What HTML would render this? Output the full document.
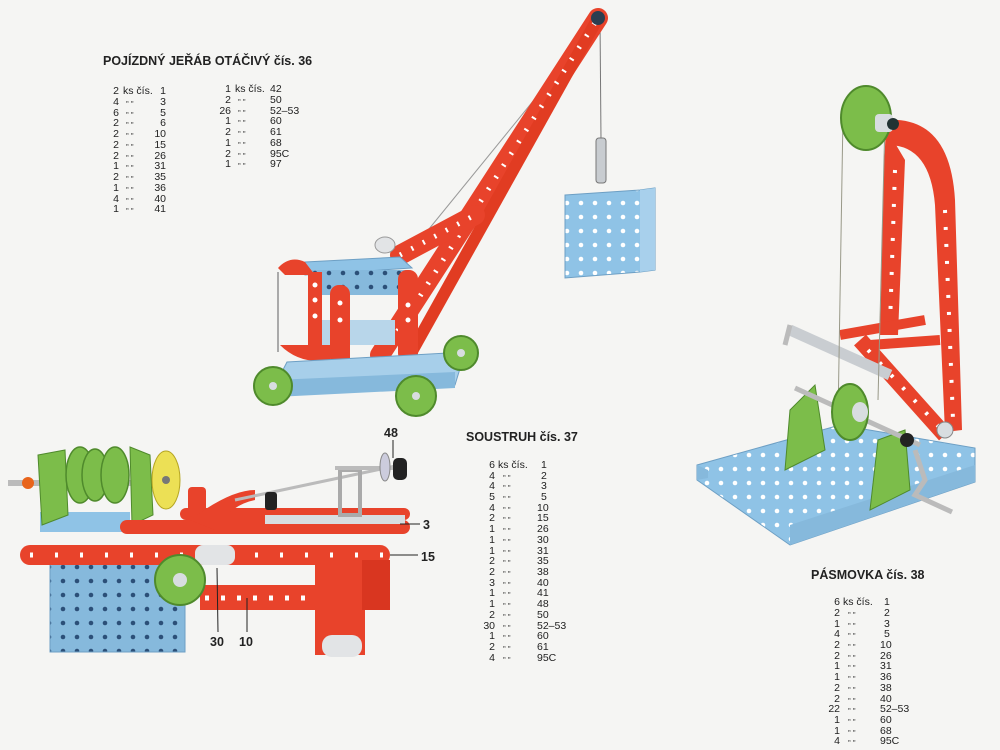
<!DOCTYPE html>
<html><head><meta charset="utf-8"><style>
html,body{margin:0;padding:0;background:#f5f5f3;}
svg{display:block}
text{font-family:"Liberation Sans",sans-serif;fill:#222}
.t{font-size:12.5px;font-weight:bold}
.l{font-size:10.5px}
.q{font-size:8px}
</style></head><body>
<svg width="1000" height="750" viewBox="0 0 1000 750" xmlns="http://www.w3.org/2000/svg">
<rect width="1000" height="750" fill="#f5f5f3"/>
<defs>
<pattern id="holesB" width="14" height="14" patternUnits="userSpaceOnUse"><rect width="14" height="14" fill="#8fc3e6"/><circle cx="7" cy="7" r="2.3" fill="#fff"/></pattern>
<pattern id="holesBd" width="14" height="14" patternUnits="userSpaceOnUse"><rect width="14" height="14" fill="#86b9dc"/><circle cx="7" cy="7" r="2.3" fill="#2c4f78"/></pattern>
</defs>

<!-- ===== CRANE ===== -->
<line x1="600" y1="20" x2="601" y2="140" stroke="#777" stroke-width="1"/>
<rect x="596" y="138" width="10" height="45" rx="3" fill="#c8ccd0" stroke="#777"/>
<line x1="420" y1="240" x2="595" y2="25" stroke="#999" stroke-width="1"/>
<polygon points="565,195 640,190 655,188 655,270 640,272 565,278" fill="url(#holesB)" stroke="#6d9fc4"/>
<polygon points="640,190 655,188 655,270 640,272" fill="#a8d0ec"/>
<line x1="380" y1="355" x2="598" y2="18" stroke="#e8432b" stroke-width="20" stroke-linecap="round"/>
<line x1="410" y1="355" x2="598" y2="18" stroke="#e13c22" stroke-width="12"/>
<line x1="390" y1="343" x2="598" y2="18" stroke-dasharray="2 12" stroke="#fff" stroke-width="5"/>
<line x1="400" y1="255" x2="475" y2="215" stroke="#e8432b" stroke-width="20" stroke-linecap="round"/>
<line x1="400" y1="255" x2="475" y2="215" stroke-dasharray="2 11" stroke="#fff" stroke-width="5"/>
<circle cx="598" cy="18" r="7" fill="#2c3e50"/>
<ellipse cx="385" cy="245" rx="10" ry="8" fill="#e2e4e6" stroke="#999"/>
<polygon points="305,262 400,257 412,268 305,275" fill="#8fc3e6" stroke="#6d9fc4"/>
<rect x="312" y="270" width="95" height="25" fill="url(#holesBd)"/>
<rect x="320" y="320" width="75" height="25" fill="#b8d6ea"/>
<path d="M278,268 Q290,255 305,262 L315,275 L285,275Z" fill="#e8432b"/>
<path d="M280,345 Q300,365 330,360 L330,345Z" fill="#e8432b"/>
<line x1="278" y1="272" x2="278" y2="352" stroke="#aaa" stroke-width="2"/>
<rect x="308" y="272" width="14" height="85" fill="#e8432b"/>
<rect x="330" y="285" width="20" height="82" rx="9" fill="#e8432b"/>
<rect x="398" y="270" width="20" height="92" rx="9" fill="#e8432b"/>
<g fill="#fff"><circle cx="315" cy="285" r="2.5"/><circle cx="315" cy="300" r="2.5"/><circle cx="315" cy="316" r="2.5"/><circle cx="340" cy="303" r="2.5"/><circle cx="340" cy="320" r="2.5"/><circle cx="408" cy="305" r="2.5"/><circle cx="408" cy="320" r="2.5"/></g>
<polygon points="287,362 465,352 455,385 270,395" fill="#a7cfea" stroke="#6d9fc4"/>
<polygon points="275,380 455,372 455,388 275,397" fill="#86b9dc"/>
<g fill="#7cbd4a" stroke="#4f8a2c" stroke-width="2">
<circle cx="273" cy="386" r="19"/><circle cx="416" cy="396" r="20"/><circle cx="461" cy="353" r="17"/></g>
<g fill="#d8dde0"><circle cx="273" cy="386" r="4"/><circle cx="416" cy="396" r="4"/><circle cx="461" cy="353" r="4"/></g>

<text class="t" x="103" y="65">POJÍZDNÝ JEŘÁB OTÁČIVÝ <tspan>čís. 36</tspan></text>
<g class="l">
<text x="119" y="94" text-anchor="end">2</text><text x="123" y="94">ks čís.</text><text x="166" y="94" text-anchor="end">1</text>
<text x="119" y="105" text-anchor="end">4</text><text x="166" y="105" text-anchor="end">3</text>
<text x="119" y="116" text-anchor="end">6</text><text x="166" y="116" text-anchor="end">5</text>
<text x="119" y="126" text-anchor="end">2</text><text x="166" y="126" text-anchor="end">6</text>
<text x="119" y="137" text-anchor="end">2</text><text x="166" y="137" text-anchor="end">10</text>
<text x="119" y="148" text-anchor="end">2</text><text x="166" y="148" text-anchor="end">15</text>
<text x="119" y="159" text-anchor="end">2</text><text x="166" y="159" text-anchor="end">26</text>
<text x="119" y="169" text-anchor="end">1</text><text x="166" y="169" text-anchor="end">31</text>
<text x="119" y="180" text-anchor="end">2</text><text x="166" y="180" text-anchor="end">35</text>
<text x="119" y="191" text-anchor="end">1</text><text x="166" y="191" text-anchor="end">36</text>
<text x="119" y="202" text-anchor="end">4</text><text x="166" y="202" text-anchor="end">40</text>
<text x="119" y="212" text-anchor="end">1</text><text x="166" y="212" text-anchor="end">41</text>
<text x="231" y="92" text-anchor="end">1</text><text x="235" y="92">ks čís.</text><text x="270" y="92">42</text>
<text x="231" y="103" text-anchor="end">2</text><text x="270" y="103">50</text>
<text x="231" y="114" text-anchor="end">26</text><text x="270" y="114">52–53</text>
<text x="231" y="124" text-anchor="end">1</text><text x="270" y="124">60</text>
<text x="231" y="135" text-anchor="end">2</text><text x="270" y="135">61</text>
<text x="231" y="146" text-anchor="end">1</text><text x="270" y="146">68</text>
<text x="231" y="157" text-anchor="end">2</text><text x="270" y="157">95C</text>
<text x="231" y="167" text-anchor="end">1</text><text x="270" y="167">97</text>
</g>
<g class="q">
<text x="126" y="102">„  „</text><text x="126" y="113">„  „</text><text x="126" y="123">„  „</text><text x="126" y="134">„  „</text><text x="126" y="145">„  „</text><text x="126" y="156">„  „</text><text x="126" y="166">„  „</text><text x="126" y="177">„  „</text><text x="126" y="188">„  „</text><text x="126" y="199">„  „</text><text x="126" y="209">„  „</text>
<text x="238" y="100">„  „</text><text x="238" y="111">„  „</text><text x="238" y="121">„  „</text><text x="238" y="132">„  „</text><text x="238" y="143">„  „</text><text x="238" y="154">„  „</text><text x="238" y="164">„  „</text>
</g>

<!-- ===== LATHE ===== -->
<rect x="50" y="560" width="135" height="92" fill="url(#holesBd)" stroke="#6d9fc4"/>
<rect x="40" y="512" width="90" height="20" fill="#8fc3e6"/>
<line x1="8" y1="483" x2="175" y2="483" stroke="#bbb" stroke-width="6"/>
<circle cx="28" cy="483" r="6" fill="#e8641b"/>
<polygon points="38,455 65,450 68,515 42,525" fill="#7cbd4a" stroke="#4f8a2c"/>
<g fill="#7cbd4a" stroke="#4f8a2c" stroke-width="1.5">
<ellipse cx="80" cy="475" rx="14" ry="28"/><ellipse cx="95" cy="475" rx="13" ry="26"/><ellipse cx="115" cy="475" rx="14" ry="28"/></g>
<polygon points="130,447 150,455 153,515 132,525" fill="#7cbd4a" stroke="#4f8a2c"/>
<ellipse cx="166" cy="480" rx="14" ry="29" fill="#ece055" stroke="#b5a522"/>
<circle cx="166" cy="480" r="4" fill="#777"/>
<rect x="120" y="520" width="290" height="14" rx="7" fill="#e8432b"/>
<rect x="180" y="508" width="230" height="12" rx="6" fill="#e8432b"/>
<rect x="265" y="515" width="140" height="9" fill="#d8dde0"/>
<rect x="20" y="545" width="370" height="20" rx="10" fill="#e8432b"/>
<line x1="30" y1="555" x2="385" y2="555" stroke="#fff" stroke-width="5" stroke-dasharray="3 22"/>
<rect x="200" y="585" width="130" height="25" fill="#e8432b"/>
<line x1="205" y1="598" x2="320" y2="598" stroke="#fff" stroke-width="5" stroke-dasharray="4 12"/>
<rect x="315" y="565" width="25" height="90" fill="#e8432b"/>
<rect x="340" y="565" width="25" height="90" fill="#e8432b"/>
<rect x="362" y="560" width="28" height="50" fill="#d93620"/>
<rect x="322" y="635" width="40" height="22" rx="10" fill="#e2e4e6"/>
<rect x="195" y="545" width="40" height="20" rx="8" fill="#e2e4e6"/>
<circle cx="180" cy="580" r="25" fill="#7cbd4a" stroke="#4f8a2c" stroke-width="2"/>
<circle cx="180" cy="580" r="7" fill="#d8dde0"/>
<rect x="188" y="487" width="18" height="30" rx="4" fill="#e8432b"/>
<path d="M190,520 Q230,490 255,490 L255,500 Q230,505 215,530Z" fill="#e8432b"/>
<line x1="235" y1="500" x2="400" y2="465" stroke="#bbb" stroke-width="3"/>
<rect x="265" y="492" width="12" height="18" rx="3" fill="#222"/>
<rect x="340" y="470" width="20" height="45" fill="none" stroke="#aaa" stroke-width="4"/>
<line x1="335" y1="468" x2="395" y2="468" stroke="#bbb" stroke-width="4"/>
<ellipse cx="385" cy="467" rx="5" ry="14" fill="#ccd" stroke="#888"/>
<rect x="393" y="458" width="14" height="22" rx="5" fill="#222"/>
<line x1="393" y1="440" x2="393" y2="458" stroke="#222" stroke-width="1"/>
<text class="t" x="384" y="437">48</text>
<line x1="400" y1="524" x2="420" y2="524" stroke="#222"/>
<text class="t" x="423" y="529">3</text>
<line x1="390" y1="555" x2="418" y2="555" stroke="#222"/>
<text class="t" x="421" y="561">15</text>
<line x1="217" y1="568" x2="218" y2="632" stroke="#222"/>
<line x1="247" y1="598" x2="247" y2="632" stroke="#222"/>
<text class="t" x="210" y="646">30</text><text class="t" x="239" y="646">10</text>

<text class="t" x="466" y="441">SOUSTRUH <tspan>čís. 37</tspan></text>
<g class="l">
<text x="495" y="468" text-anchor="end">6</text><text x="498" y="468">ks čís.</text><text x="541" y="468">1</text>
<text x="495" y="479" text-anchor="end">4</text><text x="541" y="479">2</text>
<text x="495" y="489" text-anchor="end">4</text><text x="541" y="489">3</text>
<text x="495" y="500" text-anchor="end">5</text><text x="541" y="500">5</text>
<text x="495" y="511" text-anchor="end">4</text><text x="537" y="511">10</text>
<text x="495" y="521" text-anchor="end">2</text><text x="537" y="521">15</text>
<text x="495" y="532" text-anchor="end">1</text><text x="537" y="532">26</text>
<text x="495" y="543" text-anchor="end">1</text><text x="537" y="543">30</text>
<text x="495" y="554" text-anchor="end">1</text><text x="537" y="554">31</text>
<text x="495" y="564" text-anchor="end">2</text><text x="537" y="564">35</text>
<text x="495" y="575" text-anchor="end">2</text><text x="537" y="575">38</text>
<text x="495" y="586" text-anchor="end">3</text><text x="537" y="586">40</text>
<text x="495" y="596" text-anchor="end">1</text><text x="537" y="596">41</text>
<text x="495" y="607" text-anchor="end">1</text><text x="537" y="607">48</text>
<text x="495" y="618" text-anchor="end">2</text><text x="537" y="618">50</text>
<text x="495" y="629" text-anchor="end">30</text><text x="537" y="629">52–53</text>
<text x="495" y="639" text-anchor="end">1</text><text x="537" y="639">60</text>
<text x="495" y="650" text-anchor="end">2</text><text x="537" y="650">61</text>
<text x="495" y="661" text-anchor="end">4</text><text x="537" y="661">95C</text>
</g>
<g class="q">
<text x="503" y="476">„  „</text><text x="503" y="486">„  „</text><text x="503" y="497">„  „</text><text x="503" y="508">„  „</text><text x="503" y="518">„  „</text><text x="503" y="529">„  „</text><text x="503" y="540">„  „</text><text x="503" y="551">„  „</text><text x="503" y="561">„  „</text><text x="503" y="572">„  „</text><text x="503" y="583">„  „</text><text x="503" y="593">„  „</text><text x="503" y="604">„  „</text><text x="503" y="615">„  „</text><text x="503" y="626">„  „</text><text x="503" y="636">„  „</text><text x="503" y="647">„  „</text><text x="503" y="658">„  „</text>
</g>

<!-- ===== PASMOVKA ===== -->
<polygon points="697,465 840,425 975,448 975,482 790,545 697,480" fill="url(#holesB)" stroke="#6d9fc4"/>
<polygon points="790,525 975,465 975,482 790,545" fill="#86b9dc"/>
<polygon points="697,465 697,480 708,478 708,470" fill="#86b9dc"/>
<path d="M885,120 Q950,115 955,200 L962,430 L945,432 L935,205 Q930,145 888,145Z" fill="#e8432b"/>
<path d="M886,128 L905,160 L898,335 L880,335 L884,165Z" fill="#e8432b"/>
<line x1="895" y1="170" x2="890" y2="325" stroke="#fff" stroke-width="4" stroke-dasharray="3 14"/>
<line x1="945" y1="210" x2="953" y2="420" stroke="#fff" stroke-width="4" stroke-dasharray="3 14"/>
<line x1="860" y1="340" x2="945" y2="435" stroke="#e8432b" stroke-width="16"/>
<line x1="868" y1="350" x2="940" y2="428" stroke="#fff" stroke-width="4" stroke-dasharray="3 14"/>
<line x1="840" y1="335" x2="925" y2="320" stroke="#e8432b" stroke-width="10"/>
<line x1="870" y1="345" x2="940" y2="340" stroke="#e8432b" stroke-width="10"/>
<line x1="790" y1="330" x2="890" y2="375" stroke="#c9cdd1" stroke-width="11"/>
<path d="M790,325 L785,345" stroke="#bbb" stroke-width="5"/>
<line x1="843" y1="115" x2="838" y2="420" stroke="#998" stroke-width="1"/>
<line x1="885" y1="120" x2="878" y2="400" stroke="#998" stroke-width="1"/>
<ellipse cx="866" cy="118" rx="25" ry="32" fill="#7cbd4a" stroke="#4f8a2c" stroke-width="2"/>
<rect x="875" y="114" width="18" height="18" rx="4" fill="#d8dde0"/>
<circle cx="893" cy="124" r="6" fill="#233"/>
<polygon points="785,470 790,410 815,385 825,450" fill="#7cbd4a" stroke="#4f8a2c"/>
<polygon points="870,510 878,440 905,430 910,490" fill="#7cbd4a" stroke="#4f8a2c"/>
<line x1="795" y1="388" x2="920" y2="445" stroke="#bbb" stroke-width="5"/>
<ellipse cx="850" cy="412" rx="18" ry="28" fill="#7cbd4a" stroke="#4f8a2c" stroke-width="2"/>
<ellipse cx="860" cy="412" rx="8" ry="10" fill="#d8dde0"/>
<circle cx="907" cy="440" r="7" fill="#222"/>
<path d="M915,450 L925,480 L915,495 L952,512" fill="none" stroke="#bbb" stroke-width="5"/>
<circle cx="945" cy="430" r="8" fill="#d8dde0" stroke="#888"/>

<text class="t" x="811" y="579">PÁSMOVKA <tspan>čís. 38</tspan></text>
<g class="l">
<text x="840" y="605" text-anchor="end">6</text><text x="843" y="605">ks čís.</text><text x="884" y="605">1</text>
<text x="840" y="616" text-anchor="end">2</text><text x="884" y="616">2</text>
<text x="840" y="627" text-anchor="end">1</text><text x="884" y="627">3</text>
<text x="840" y="637" text-anchor="end">4</text><text x="884" y="637">5</text>
<text x="840" y="648" text-anchor="end">2</text><text x="880" y="648">10</text>
<text x="840" y="659" text-anchor="end">2</text><text x="880" y="659">26</text>
<text x="840" y="669" text-anchor="end">1</text><text x="880" y="669">31</text>
<text x="840" y="680" text-anchor="end">1</text><text x="880" y="680">36</text>
<text x="840" y="691" text-anchor="end">2</text><text x="880" y="691">38</text>
<text x="840" y="702" text-anchor="end">2</text><text x="880" y="702">40</text>
<text x="840" y="712" text-anchor="end">22</text><text x="880" y="712">52–53</text>
<text x="840" y="723" text-anchor="end">1</text><text x="880" y="723">60</text>
<text x="840" y="734" text-anchor="end">1</text><text x="880" y="734">68</text>
<text x="840" y="744" text-anchor="end">4</text><text x="880" y="744">95C</text>
</g>
<g class="q">
<text x="848" y="613">„  „</text><text x="848" y="624">„  „</text><text x="848" y="634">„  „</text><text x="848" y="645">„  „</text><text x="848" y="656">„  „</text><text x="848" y="666">„  „</text><text x="848" y="677">„  „</text><text x="848" y="688">„  „</text><text x="848" y="699">„  „</text><text x="848" y="709">„  „</text><text x="848" y="720">„  „</text><text x="848" y="731">„  „</text><text x="848" y="741">„  „</text>
</g>
</svg>
</body></html>
